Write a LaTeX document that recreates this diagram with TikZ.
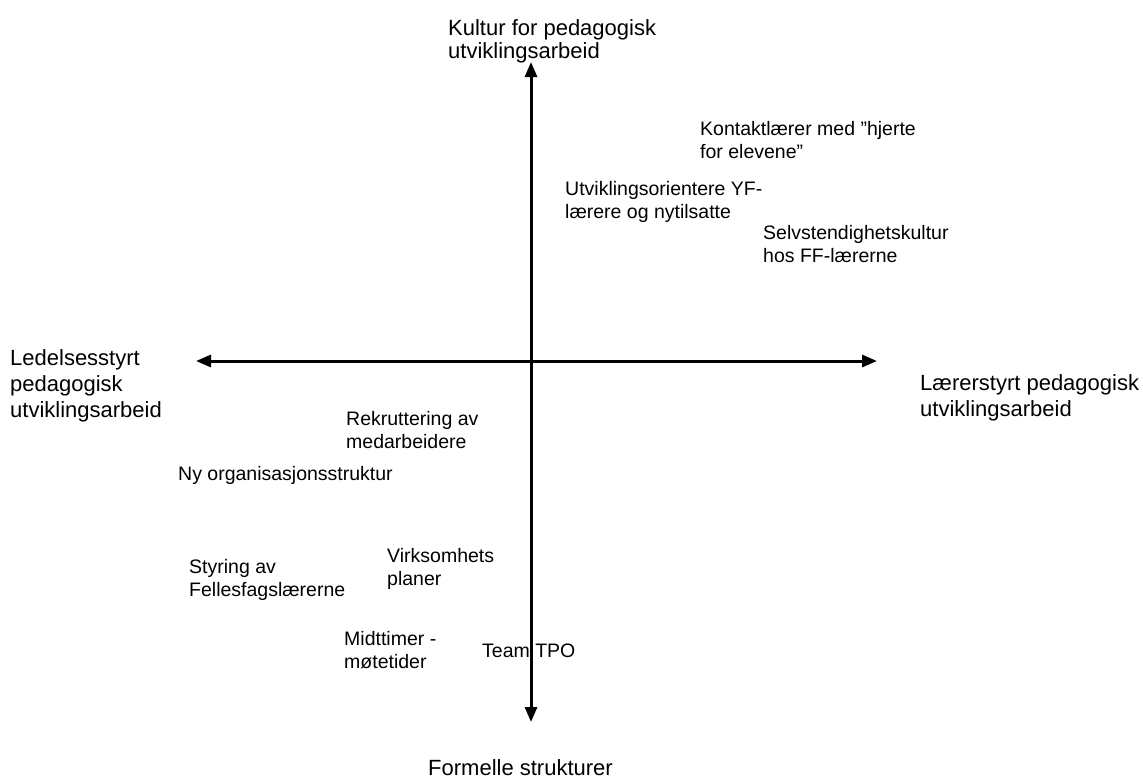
\documentclass[tikz,border=0pt]{standalone}
\usepackage{fontspec}
\setmainfont{Liberation Sans}
\usetikzlibrary{arrows.meta}
% nodes are placed by the baseline of their last line
\tikzset{
  axislabel/.style={anchor=base west, inner sep=0pt, align=left, font=\fontsize{22}{24.5}\selectfont},
  item/.style={anchor=base west, inner sep=0pt, align=left, font=\fontsize{19.5}{23}\selectfont},
  axis/.style={line width=3pt, {Triangle[length=15pt,width=12pt]}-{Triangle[length=15pt,width=12pt]}}
}
\begin{document}
\begin{tikzpicture}[x=1pt,y=-1pt]
\useasboundingbox (0,0) rectangle (1143,779);

% axis captions
\node[axislabel, font=\fontsize{22}{23}\selectfont] (top) at (448,58) {Kultur for pedagogisk\\utviklingsarbeid};
\node[axislabel, font=\fontsize{22}{26}\selectfont] (left) at (10,417) {Ledelsesstyrt\\pedagogisk\\utviklingsarbeid};
\node[axislabel, font=\fontsize{22}{26}\selectfont] (right) at (920,416) {Lærerstyrt pedagogisk\\utviklingsarbeid};
\node[axislabel] (bottom) at (428,775) {Formelle strukturer};

% items placed in the quadrants
\node[item] (kontakt) at (700,158) {Kontaktlærer med ”hjerte\\for elevene”};
\node[item] (yf) at (565,218) {Utviklingsorientere YF-\\lærere og nytilsatte};
\node[item] (selv) at (763,262) {Selvstendighetskultur\\hos FF-lærerne};
\node[item] (rekrutt) at (346,448) {Rekruttering av\\medarbeidere};
\node[item] (org) at (178,480) {Ny organisasjonsstruktur};
\node[item] (styring) at (189,596) {Styring av\\Fellesfagslærerne};
\node[item] (plan) at (387,585) {Virksomhets\\planer};
\node[item] (midt) at (344,668) {Midttimer -\\møtetider};
\node[item] (team) at (482,657) {Team TPO};

% axes
\coordinate (ytop) at (531,62);
\coordinate (ybot) at (531,722);
\coordinate (xleft) at (196,361);
\coordinate (xright) at (877,361);
\draw[axis] (ybot) -- (ytop);
\draw[axis] (xleft) -- (xright);
\end{tikzpicture}
\end{document}
